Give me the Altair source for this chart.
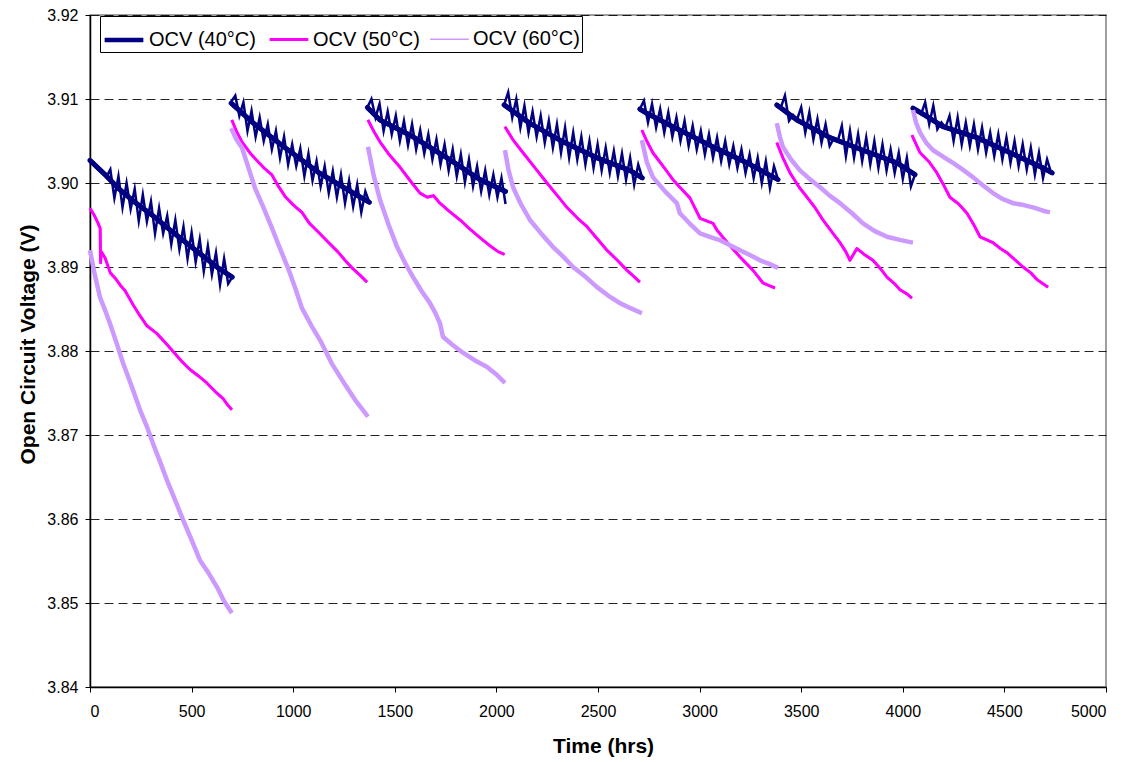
import altair as alt
import pandas as pd

SERIES = ["OCV (40°C)", "OCV (50°C)", "OCV (60°C)"]
COLORS = ["#000080", "#FF00FF", "#CC99FF"]
LEGEND_WIDTHS = [4.5, 1.5, 1.5]

X_TICKS = [0, 500, 1000, 1500, 2000, 2500, 3000, 3500, 4000, 4500, 5000]
Y_TICKS = [3.84, 3.85, 3.86, 3.87, 3.88, 3.89, 3.90, 3.91, 3.92]

# 40°C: band centre per segment (time, voltage)
T40_CORE = [
    [0, 74, 138, 221, 305, 384, 467, 551, 630, 700],
    [695, 800, 960, 1122, 1289, 1375],
    [1365, 1427, 1590, 1757, 1919, 2045],
    [2038, 2165, 2328, 2495, 2657, 2718],
    [2706, 2740, 2869, 3066, 3233, 3386],
    [3380, 3479, 3642, 3804, 3971, 4060],
    [4050, 4100, 4198, 4365, 4528, 4690, 4735],
]
V40_CORE = [
    [3.9027, 3.9010, 3.8994, 3.8977, 3.8962, 3.8946, 3.8930, 3.8914, 3.8899, 3.8888],
    [3.9095, 3.9072, 3.9042, 3.9013, 3.8989, 3.8977],
    [3.9090, 3.9075, 3.9055, 3.9030, 3.9004, 3.8990],
    [3.9093, 3.9071, 3.9049, 3.9030, 3.9015, 3.9006],
    [3.9088, 3.9083, 3.9067, 3.9043, 3.9024, 3.9004],
    [3.9093, 3.9075, 3.9054, 3.9039, 3.9024, 3.9010],
    [3.9089, 3.9082, 3.9067, 3.9054, 3.9036, 3.9018, 3.9012],
]

# 40°C: raw readings every 20 hrs from each segment start (the spiky noise)
T40_START = [0, 695, 1365, 2038, 2706, 3380, 4050]
T40_STEP = 20
V40 = [
    [3.9027, 3.9024, 3.9016, 3.9014, 3.9007, 3.9016, 3.8982, 3.9008, 3.8971, 3.9000,
     3.8969, 3.8993, 3.8955, 3.8986, 3.8954, 3.8978, 3.8940, 3.8970, 3.8940, 3.8961,
     3.8927, 3.8956, 3.8921, 3.8948, 3.8910, 3.8941, 3.8906, 3.8933, 3.8895, 3.8925,
     3.8891, 3.8917, 3.8879, 3.8910, 3.8880, 3.8888],
    [3.9097, 3.9104, 3.9080, 3.9096, 3.9062, 3.9086, 3.9055, 3.9078, 3.9050, 3.9070,
     3.9040, 3.9062, 3.9030, 3.9055, 3.9022, 3.9046, 3.9020, 3.9041, 3.9008, 3.9035,
     3.9003, 3.9026, 3.8996, 3.9020, 3.8988, 3.9014, 3.8983, 3.9010, 3.8976, 3.9003,
     3.8972, 3.8998, 3.8965, 3.8990, 3.8977],
    [3.9090, 3.9100, 3.9078, 3.9094, 3.9062, 3.9085, 3.9058, 3.9080, 3.9050, 3.9074,
     3.9045, 3.9070, 3.9040, 3.9063, 3.9035, 3.9058, 3.9028, 3.9052, 3.9022, 3.9046,
     3.9015, 3.9040, 3.9008, 3.9034, 3.9001, 3.9028, 3.8996, 3.9020, 3.8990, 3.9015,
     3.8986, 3.9010, 3.8983, 3.9006, 3.8975],
    [3.9093, 3.9108, 3.9078, 3.9100, 3.9066, 3.9092, 3.9060, 3.9085, 3.9055, 3.9080,
     3.9048, 3.9074, 3.9042, 3.9070, 3.9036, 3.9066, 3.9030, 3.9060, 3.9028, 3.9055,
     3.9022, 3.9050, 3.9018, 3.9046, 3.9015, 3.9042, 3.9012, 3.9038, 3.9008, 3.9035,
     3.9004, 3.9030, 3.8998, 3.9022, 3.9006],
    [3.9088, 3.9098, 3.9072, 3.9094, 3.9066, 3.9088, 3.9060, 3.9084, 3.9055, 3.9078,
     3.9050, 3.9074, 3.9044, 3.9068, 3.9040, 3.9062, 3.9034, 3.9058, 3.9030, 3.9054,
     3.9026, 3.9050, 3.9022, 3.9044, 3.9018, 3.9040, 3.9012, 3.9034, 3.9006, 3.9030,
     3.9000, 3.9026, 3.8994, 3.9020, 3.9004],
    [3.9093, 3.9090, 3.9104, 3.9074, 3.9081, 3.9076, 3.9090, 3.9060, 3.9084, 3.9052,
     3.9076, 3.9048, 3.9070, 3.9044, 3.9053, 3.9050, 3.9068, 3.9032, 3.9062, 3.9030,
     3.9058, 3.9026, 3.9054, 3.9022, 3.9050, 3.9018, 3.9046, 3.9015, 3.9040, 3.9012,
     3.9036, 3.9005, 3.9030, 3.8996, 3.9010],
    [3.9089, 3.9087, 3.9082, 3.9096, 3.9070, 3.9092, 3.9064, 3.9072, 3.9066, 3.9080,
     3.9050, 3.9078, 3.9046, 3.9072, 3.9044, 3.9070, 3.9040, 3.9066, 3.9036, 3.9060,
     3.9032, 3.9058, 3.9028, 3.9054, 3.9024, 3.9050, 3.9020, 3.9046, 3.9016, 3.9042,
     3.9010, 3.9036, 3.9006, 3.9028, 3.9012],
]

# 50°C: (time, voltage) readings per segment
T50 = [
    [0, 20, 40, 50, 52, 56, 74, 100, 123, 150, 172, 212, 246, 280, 328, 370, 410, 450, 492, 535, 575, 615, 656, 680, 698],
    [698, 720, 748, 790, 828, 860, 894, 930, 960, 1000, 1043, 1080, 1122, 1170, 1220, 1255, 1289, 1330, 1363],
    [1368, 1400, 1427, 1475, 1525, 1575, 1624, 1660, 1690, 1722, 1770, 1821, 1870, 1919, 1975, 2010, 2040],
    [2042, 2080, 2131, 2190, 2249, 2300, 2347, 2400, 2446, 2495, 2544, 2595, 2643, 2680, 2706],
    [2716, 2740, 2770, 2820, 2869, 2903, 2953, 3002, 3066, 3085, 3140, 3199, 3263, 3312, 3340, 3371],
    [3380, 3410, 3445, 3490, 3529, 3570, 3607, 3650, 3691, 3720, 3740, 3774, 3810, 3853, 3890, 3922, 3960, 3986, 4020, 4045],
    [4045, 4085, 4130, 4168, 4200, 4232, 4275, 4316, 4350, 4380, 4444, 4480, 4513, 4555, 4592, 4630, 4661, 4690, 4715],
]
V50 = [
    [3.8970, 3.8962, 3.8952, 3.8946, 3.8905, 3.8918, 3.8911, 3.8893, 3.8887, 3.8878, 3.8872, 3.8855, 3.8842, 3.8830,
     3.8821, 3.8810, 3.8799, 3.8788, 3.8778, 3.8770, 3.8762, 3.8752, 3.8743, 3.8735, 3.8730],
    [3.9075, 3.9062, 3.9049, 3.9035, 3.9025, 3.9017, 3.9010, 3.8995, 3.8984, 3.8974, 3.8965, 3.8952, 3.8942, 3.8930,
     3.8918, 3.8908, 3.8899, 3.8890, 3.8882],
    [3.9075, 3.9060, 3.9049, 3.9033, 3.9019, 3.9003, 3.8988, 3.8983, 3.8985, 3.8976, 3.8966, 3.8956, 3.8945, 3.8935,
     3.8924, 3.8918, 3.8915],
    [3.9067, 3.9052, 3.9036, 3.9018, 3.9000, 3.8985, 3.8971, 3.8958, 3.8948, 3.8934, 3.8920, 3.8908, 3.8896, 3.8888,
     3.8882],
    [3.9063, 3.9050, 3.9036, 3.9020, 3.9004, 3.8995, 3.8982, 3.8958, 3.8952, 3.8944, 3.8928, 3.8912, 3.8896, 3.8881,
     3.8878, 3.8875],
    [3.9048, 3.9030, 3.9012, 3.8995, 3.8983, 3.8970, 3.8956, 3.8942, 3.8929, 3.8918, 3.8908, 3.8922, 3.8915, 3.8908,
     3.8898, 3.8888, 3.8880, 3.8873, 3.8868, 3.8863],
    [3.9057, 3.9036, 3.9025, 3.9012, 3.8998, 3.8983, 3.8975, 3.8964, 3.8950, 3.8936, 3.8929, 3.8922, 3.8917, 3.8908,
     3.8900, 3.8893, 3.8885, 3.8880, 3.8876],
]

# 60°C: (time, voltage) readings per segment
T60 = [
    [0, 20, 49, 75, 98, 130, 162, 205, 246, 280, 310, 345, 379, 420, 458, 500, 541, 585, 625, 660, 698],
    [695, 720, 748, 780, 812, 855, 896, 935, 974, 1010, 1043, 1090, 1132, 1190, 1255, 1310, 1368],
    [1368, 1395, 1427, 1470, 1511, 1550, 1590, 1630, 1673, 1700, 1722, 1737, 1780, 1835, 1900, 1954, 2000, 2042],
    [2042, 2060, 2082, 2120, 2165, 2220, 2278, 2330, 2377, 2440, 2495, 2550, 2608, 2660, 2716],
    [2716, 2740, 2770, 2830, 2888, 2903, 2950, 3002, 3050, 3100, 3150, 3199, 3250, 3297, 3340, 3386],
    [3380, 3395, 3410, 3450, 3494, 3545, 3593, 3640, 3691, 3750, 3804, 3860, 3922, 3990, 4050],
    [4050, 4065, 4085, 4115, 4149, 4200, 4247, 4300, 4345, 4395, 4444, 4490, 4542, 4590, 4641, 4690, 4724],
]
V60 = [
    [3.8920, 3.8895, 3.8864, 3.8848, 3.8833, 3.8810, 3.8786, 3.8758, 3.8730, 3.8710, 3.8690, 3.8668, 3.8646, 3.8622,
     3.8599, 3.8575, 3.8551, 3.8535, 3.8519, 3.8502, 3.8488],
    [3.9065, 3.9052, 3.9042, 3.9018, 3.8994, 3.8970, 3.8946, 3.8922, 3.8899, 3.8875, 3.8851, 3.8830, 3.8813, 3.8785,
     3.8760, 3.8740, 3.8722],
    [3.9043, 3.9010, 3.8980, 3.8950, 3.8924, 3.8905, 3.8888, 3.8872, 3.8857, 3.8845, 3.8833, 3.8817, 3.8808, 3.8798,
     3.8788, 3.8781, 3.8772, 3.8762],
    [3.9039, 3.9015, 3.8995, 3.8975, 3.8956, 3.8940, 3.8924, 3.8912, 3.8900, 3.8888, 3.8876, 3.8866, 3.8857, 3.8851,
     3.8845],
    [3.9051, 3.9025, 3.9007, 3.8990, 3.8976, 3.8964, 3.8952, 3.8940, 3.8936, 3.8932, 3.8926, 3.8920, 3.8914, 3.8908,
     3.8904, 3.8899],
    [3.9071, 3.9055, 3.9043, 3.9028, 3.9015, 3.9004, 3.8995, 3.8985, 3.8976, 3.8964, 3.8952, 3.8943, 3.8936, 3.8932,
     3.8929],
    [3.9087, 3.9072, 3.9060, 3.9048, 3.9039, 3.9031, 3.9024, 3.9015, 3.9007, 3.8997, 3.8988, 3.8981, 3.8976, 3.8974,
     3.8971, 3.8967, 3.8965],
]

base_rows, raw40_rows = [], []
for k, (ts, vs) in enumerate(zip(T40_CORE, V40_CORE)):
    for t, v in zip(ts, vs):
        base_rows.append({"series": SERIES[0], "seg": f"a{k}", "t": t, "v": v})
for k, (ts, vs) in enumerate(zip(T50, V50)):
    for t, v in zip(ts, vs):
        base_rows.append({"series": SERIES[1], "seg": f"b{k}", "t": t, "v": v})
for k, (ts, vs) in enumerate(zip(T60, V60)):
    for t, v in zip(ts, vs):
        base_rows.append({"series": SERIES[2], "seg": f"c{k}", "t": t, "v": v})
for k, (start, vals) in enumerate(zip(T40_START, V40)):
    for i, v in enumerate(vals):
        raw40_rows.append({"seg": f"r{k}", "t": start + T40_STEP * i, "v": v})

df = pd.DataFrame(base_rows)
df40 = pd.DataFrame(raw40_rows)
df40core = df[df["series"] == SERIES[0]]
df50 = df[df["series"] == SERIES[1]]
df60 = df[df["series"] == SERIES[2]]

FONT = "Liberation Sans"


def make_legend():
    return alt.Legend(
        title=None, orient="none", legendX=10, legendY=1, direction="horizontal",
        symbolType="stroke", symbolSize=1500,
        labelFont=FONT, labelFontSize=20, labelColor="black", labelOffset=3,
        columnPadding=7, padding=2, strokeColor="black", fillColor="white",
        cornerRadius=0,
    )


x_enc = alt.X("t:Q", scale=alt.Scale(domain=[0, 5000], nice=False),
              axis=alt.Axis(values=X_TICKS, format="d", title="Time (hrs)", grid=False,
                            labelPadding=11,
                            titleX=513, titleY=59, titleBaseline="middle", titleAlign="center"))
y_enc = alt.Y("v:Q", scale=alt.Scale(domain=[3.84, 3.92], nice=False, zero=False),
              axis=alt.Axis(values=Y_TICKS, format=".2f", title="Open Circuit Voltage (V)",
                            labelPadding=7,
                            grid=True, gridDash=[9, 5], gridColor="black", gridOpacity=0.85,
                            titleX=-62, titleY=329, titleAngle=270, titleBaseline="middle",
                            titleAlign="center"))

base = alt.Chart(df).mark_line(strokeJoin="round").encode(
    x=x_enc,
    y=y_enc,
    color=alt.Color("series:N", scale=alt.Scale(domain=SERIES, range=COLORS), legend=make_legend()),
    strokeWidth=alt.StrokeWidth("series:N", scale=alt.Scale(domain=SERIES, range=LEGEND_WIDTHS),
                                legend=make_legend()),
    detail="seg:N",
)

core40 = alt.Chart(df40core).mark_line(strokeJoin="round", strokeCap="round", color=COLORS[0],
                                        strokeWidth=5).encode(
    x="t:Q", y="v:Q", detail="seg:N",
)
raw40 = alt.Chart(df40).mark_line(strokeJoin="miter", strokeMiterLimit=20, color=COLORS[0],
                                  strokeWidth=2.5).encode(
    x="t:Q", y="v:Q", detail="seg:N",
)
thick50 = alt.Chart(df50).mark_line(strokeJoin="round", color=COLORS[1], strokeWidth=2.2).encode(
    x="t:Q", y="v:Q", detail="seg:N",
)
thick60 = alt.Chart(df60).mark_line(strokeJoin="round", color=COLORS[2], strokeWidth=4.5).encode(
    x="t:Q", y="v:Q", detail="seg:N",
)

chart = alt.layer(base, core40, raw40, thick50, thick60).properties(
    width=1016, height=672,
    background="white",
    autosize=alt.AutoSizeParams(type="none"),
    padding={"left": 82, "top": 7, "right": 12, "bottom": 74},
).configure_axis(
    labelFont=FONT, labelFontSize=16, labelColor="black",
    titleFont=FONT, titleFontSize=21, titleFontWeight="bold", titleColor="black",
    domainColor="black", domainWidth=1.5, tickColor="black", tickSize=5, tickWidth=1,
).configure_view(
    stroke="#808080", strokeWidth=1.5,
)

chart.save("out.html", embed_options={"renderer": "svg", "actions": False})
